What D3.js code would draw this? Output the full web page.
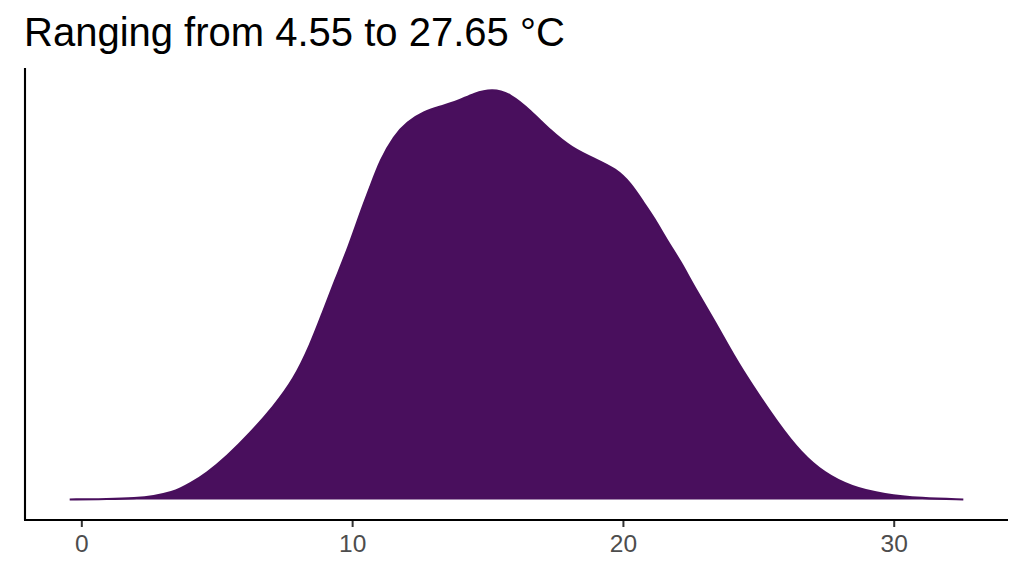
<!DOCTYPE html>
<html>
<head>
<meta charset="utf-8">
<script src="https://cdn.jsdelivr.net/npm/d3@7"></script>
<style>
  html, body { margin: 0; padding: 0; background: #ffffff; }
  svg { display: block; }
</style>
</head>
<body>
<script>
// ---- data ----
const titleText = "Ranging from 4.55 to 27.65 °C";
const temps = [-0.43, 1.0, 2.0, 2.66, 3.40, 3.64, 4.0, 4.63, 5.37, 6.23, 7.10, 7.84, 8.46, 8.89, 9.38, 9.87,
  10.30, 10.67, 11.04, 11.54, 12.03, 12.65, 13.26, 13.88, 14.50, 15.18, 15.85, 16.59, 17.33, 18.11,
  19.00, 19.74, 20.29, 20.78, 21.15, 21.65, 22.14, 22.63, 23.37, 24.11, 24.73, 25.72, 26.58, 27.44,
  28.43, 29.66, 31.02, 32.57];
const density = [0.0000, 0.00005, 0.0002, 0.0005, 0.0013, 0.0018, 0.0026, 0.0044, 0.0072, 0.0111, 0.0156,
  0.0201, 0.0260, 0.0311, 0.0369, 0.0424, 0.0481, 0.0525, 0.0570, 0.0610, 0.0634, 0.0651, 0.0660,
  0.0668, 0.0682, 0.0690, 0.0681, 0.0653, 0.0619, 0.0590, 0.0571, 0.0555, 0.0531, 0.0497, 0.0473,
  0.0433, 0.0399, 0.0357, 0.0301, 0.0240, 0.0195, 0.0128, 0.0078, 0.0044, 0.0021, 0.0008, 0.0002, 0.0000];
const xTicks = [0, 10, 20, 30];

// ---- layout ----
const W = 1024, H = 576;
const panel = { left: 25, right: 1008, top: 68, bottom: 520 };
const fillColor = "#490F5D";

const svg = d3.select("body").append("svg")
  .attr("width", W).attr("height", H)
  .style("font-family", "'Liberation Sans', Arial, sans-serif");
svg.append("rect").attr("width", W).attr("height", H).attr("fill", "#ffffff");

const pts = temps.map((t, i) => ({ t, d: density[i] }));

const xMin = d3.min(temps), xMax = d3.max(temps);
const xPad = (xMax - xMin) * 0.05;
const x = d3.scaleLinear().domain([xMin - xPad, xMax + xPad]).range([panel.left, panel.right]);
const dMax = d3.max(density);
const y = d3.scaleLinear().domain([-0.05 * dMax, 1.05 * dMax]).range([panel.bottom, panel.top]);

// density area
const area = d3.area().x(d => x(d.t)).y0(y(0)).y1(d => y(d.d)).curve(d3.curveBasis);
const line = d3.line().x(d => x(d.t)).y(d => y(d.d)).curve(d3.curveBasis);
svg.append("path").datum(pts).attr("d", area).attr("fill", fillColor);
svg.append("path").datum(pts).attr("d", line).attr("fill", "none")
  .attr("stroke", fillColor).attr("stroke-width", 2.1).attr("stroke-linejoin", "round");

// x axis
const xAxis = d3.axisBottom(x).tickValues(xTicks).tickSize(7).tickPadding(8).tickFormat(d3.format("d"));
const gx = svg.append("g").attr("transform", `translate(0,${panel.bottom})`).call(xAxis);
gx.select(".domain").remove();
gx.selectAll(".tick line").attr("stroke", "#333333").attr("stroke-width", 2);
gx.selectAll(".tick text").attr("fill", "#4D4D4D").attr("font-size", "24.5px")
  .attr("font-family", "'Liberation Sans', Arial, sans-serif");
svg.append("line").attr("x1", panel.left - 1).attr("x2", panel.right)
  .attr("y1", panel.bottom).attr("y2", panel.bottom).attr("stroke", "#000").attr("stroke-width", 2.1);

// y axis line (no ticks / labels)
svg.append("line").attr("x1", panel.left).attr("x2", panel.left)
  .attr("y1", panel.top).attr("y2", panel.bottom).attr("stroke", "#000").attr("stroke-width", 2.1);

// title
svg.append("text").attr("x", 24).attr("y", 45.5).attr("font-size", "40px").attr("fill", "#000")
  .text(titleText);
</script>
</body>
</html>
